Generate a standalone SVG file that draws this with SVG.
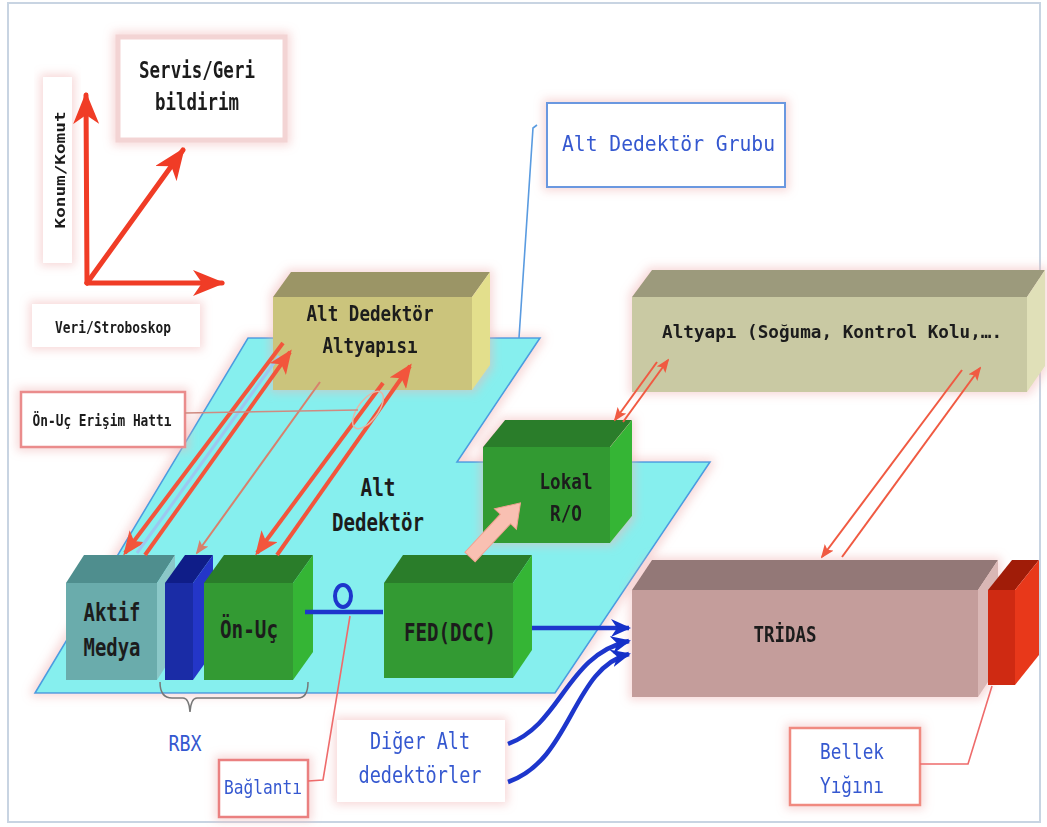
<svg xmlns="http://www.w3.org/2000/svg" width="1047" height="827" viewBox="0 0 1047 827">
<defs>
<style>
.t{font-family:"DejaVu Sans Mono","Liberation Mono",monospace;font-weight:bold;fill:#1c1c1c;text-anchor:middle}
.b{font-family:"DejaVu Sans Mono","Liberation Mono",monospace;fill:#3558d0;text-anchor:middle}
.ax{stroke:#f03c26;stroke-width:5;fill:none;stroke-linecap:round}
.rk{stroke:#f2553c;stroke-width:4;fill:none}
.rt{stroke:#f05a42;stroke-width:2;fill:none}
.bl{stroke:#1d36cc;stroke-width:4.5;fill:none}
.lead{fill:none;stroke-width:1.6}
</style>
<filter id="glow" x="-30%" y="-30%" width="160%" height="160%">
<feMorphology in="SourceAlpha" operator="dilate" radius="3" result="d"/>
<feGaussianBlur in="d" stdDeviation="5" result="bb"/>
<feFlood flood-color="#f0b4b4" flood-opacity="0.5"/>
<feComposite in2="bb" operator="in" result="g"/>
<feMerge><feMergeNode in="g"/><feMergeNode in="SourceGraphic"/></feMerge>
</filter>
<marker id="ha" viewBox="0 0 32 26" markerWidth="32" markerHeight="26" refX="29" refY="13" orient="auto" markerUnits="userSpaceOnUse"><path d="M0,0 L32,13 L0,26 L9,13 z" fill="#f03c26"/></marker>
<marker id="hb" viewBox="0 0 24 20" markerWidth="24" markerHeight="20" refX="21" refY="10" orient="auto" markerUnits="userSpaceOnUse"><path d="M0,0 L24,10 L0,20 L6,10 z" fill="#f2553c"/></marker>
<marker id="hs" viewBox="0 0 14 11" markerWidth="14" markerHeight="11" refX="12" refY="5.5" orient="auto" markerUnits="userSpaceOnUse"><path d="M0,0 L14,5.5 L0,11 L3,5.5 z" fill="#f05a42"/></marker>
<marker id="hc" viewBox="0 0 14 11" markerWidth="14" markerHeight="11" refX="12" refY="5.5" orient="auto" markerUnits="userSpaceOnUse"><path d="M0,0 L14,5.5 L0,11 L3,5.5 z" fill="#d8806c"/></marker>
<marker id="hbl" viewBox="0 0 20 18" markerWidth="20" markerHeight="18" refX="18" refY="9" orient="auto" markerUnits="userSpaceOnUse"><path d="M0,0 L20,9 L0,18 L6,9 z" fill="#1530c8"/></marker>
</defs>

<rect x="0" y="0" width="1047" height="827" fill="#ffffff"/>
<rect x="8" y="3" width="1032" height="819" fill="#ffffff" stroke="#c8d4e2" stroke-width="2"/>

<g id="platform" filter="url(#glow)">
<polygon points="35,693 248,338 540,338 457,462 710,462 555,693" fill="#86efee" stroke="#4a9ee0" stroke-width="1.6"/>
</g>

<g id="axes">
<g id="konum" filter="url(#glow)"><rect x="43" y="77" width="29" height="186" fill="#ffffff"/>
<text class="t" transform="translate(65,170) rotate(-90)" font-size="14" textLength="117" lengthAdjust="spacingAndGlyphs">Konum/Komut</text></g>
<g id="servis" filter="url(#glow)"><rect x="118" y="37" width="167" height="103" fill="#ffffff" stroke="#f3d4d4" stroke-width="5"/>
<text class="t" x="197" y="78" font-size="22.5" textLength="116" lengthAdjust="spacingAndGlyphs">Servis/Geri</text>
<text class="t" x="197" y="110" font-size="22.5" textLength="84" lengthAdjust="spacingAndGlyphs">bildirim</text></g>
<g id="veri" filter="url(#glow)"><rect x="32" y="304" width="168" height="43" fill="#ffffff"/>
<text class="t" x="113" y="333" font-size="16" textLength="116" lengthAdjust="spacingAndGlyphs">Veri/Stroboskop</text></g>
<path class="ax" d="M87,283 L86,95" marker-end="url(#ha)"/>
<path class="ax" d="M87,283 L222,283" marker-end="url(#ha)"/>
<path class="ax" d="M87,283 L183,150" marker-end="url(#ha)"/>
</g>

<g id="grubu" filter="url(#glow)"><rect x="547" y="103" width="238" height="84" fill="#ffffff" stroke="#6a98e0" stroke-width="2"/>
<text class="b" x="562" y="151" font-size="22" textLength="213" lengthAdjust="spacingAndGlyphs" style="text-anchor:start">Alt Dedektör Grubu</text></g>

<g id="altyapisi" filter="url(#glow)">
<polygon points="273,297 291,272 490,272 472,297" fill="#9b9566"/>
<polygon points="472,297 490,272 490,365 472,390" fill="#e3df8c"/>
<rect x="273" y="297" width="199" height="93" fill="#cbc47c"/>
<text class="t" x="370" y="321" font-size="22" textLength="127" lengthAdjust="spacingAndGlyphs">Alt Dedektör</text>
<text class="t" x="370" y="353" font-size="22" textLength="95" lengthAdjust="spacingAndGlyphs">Altyapısı</text>
</g>

<g id="altyapi" filter="url(#glow)">
<polygon points="632,297 652,270 1045,270 1027,297" fill="#9c9a7c"/>
<polygon points="1027,297 1045,270 1045,366 1027,392" fill="#e0e0b8"/>
<rect x="632" y="297" width="395" height="95" fill="#c9c9a3"/>
<text class="t" x="662" y="338" font-size="18" textLength="340" lengthAdjust="spacingAndGlyphs" style="text-anchor:start">Altyapı (Soğuma, Kontrol Kolu,….</text>
</g>

<g id="altdedektor">
<text class="t" x="378" y="496" font-size="24" textLength="35" lengthAdjust="spacingAndGlyphs">Alt</text>
<text class="t" x="378" y="531" font-size="24" textLength="92" lengthAdjust="spacingAndGlyphs">Dedektör</text>
</g>

<g id="lokal" filter="url(#glow)">
<polygon points="483,447 505,420 632,420 610,447" fill="#2a7d2a"/>
<polygon points="610,447 632,420 632,516 610,543" fill="#35b535"/>
<rect x="483" y="447" width="127" height="96" fill="#339a33"/>
<text class="t" x="566" y="489" font-size="22" textLength="53" lengthAdjust="spacingAndGlyphs">Lokal</text>
<text class="t" x="566" y="521" font-size="22" textLength="32" lengthAdjust="spacingAndGlyphs">R/O</text>
</g>

<g id="fed">
<polygon points="384,583 403,555 532,555 513,583" fill="#2a7d2a"/>
<polygon points="513,583 532,555 532,650 513,678" fill="#35b535"/>
<rect x="384" y="583" width="129" height="95" fill="#339a33"/>
<text class="t" x="450" y="641" font-size="24" textLength="92" lengthAdjust="spacingAndGlyphs">FED(DCC)</text>
</g>

<g id="aktif">
<polygon points="66,583 84,555 175,555 157,583" fill="#4f8e8e"/>
<polygon points="157,583 175,555 175,652 157,680" fill="#8bc8c8"/>
<rect x="66" y="583" width="91" height="97" fill="#6aacac"/>
<text class="t" x="112" y="621" font-size="24" textLength="57" lengthAdjust="spacingAndGlyphs">Aktif</text>
<text class="t" x="112" y="656" font-size="24" textLength="57" lengthAdjust="spacingAndGlyphs">Medya</text>
</g>

<g id="rbxblock">
<polygon points="165,583 185,555 213,555 193,583" fill="#0f1d88"/>
<polygon points="193,583 213,555 213,652 193,680" fill="#2436c8"/>
<rect x="165" y="583" width="28" height="97" fill="#1a2ca6"/>
</g>

<g id="onuc">
<polygon points="204,583 224,555 313,555 293,583" fill="#2a7d2a"/>
<polygon points="293,583 313,555 313,652 293,680" fill="#35b535"/>
<rect x="204" y="583" width="89" height="97" fill="#339a33"/>
<text class="t" x="249" y="638" font-size="24" textLength="58" lengthAdjust="spacingAndGlyphs">Ön-Uç</text>
</g>

<g id="tridas" filter="url(#glow)">
<polygon points="632,590 652,560 998,560 978,590" fill="#937877"/>
<polygon points="978,590 998,560 998,667 978,697" fill="#d9b7b5"/>
<rect x="632" y="590" width="346" height="107" fill="#c49d9b"/>
<text class="t" x="785" y="642" font-size="22" textLength="63" lengthAdjust="spacingAndGlyphs">TRİDAS</text>
</g>

<g id="bellekblock">
<polygon points="988,590 1012,560 1039,560 1015,590" fill="#a01c08"/>
<polygon points="1015,590 1039,560 1039,655 1015,685" fill="#e8381a"/>
<rect x="988" y="590" width="27" height="95" fill="#cf2a12"/>
</g>

<g id="onucerisim" filter="url(#glow)"><rect x="21" y="392" width="164" height="55" fill="#ffffff" stroke="#ea8c8c" stroke-width="2.5"/>
<text class="t" x="102" y="426" font-size="16" textLength="139" lengthAdjust="spacingAndGlyphs">Ön-Uç Erişim Hattı</text></g>

<g id="rbx"><rect x="154" y="722" width="59" height="40" fill="#ffffff"/>
<text class="b" x="185" y="751" font-size="22" textLength="33" lengthAdjust="spacingAndGlyphs">RBX</text></g>

<g id="baglanti" filter="url(#glow)"><rect x="219" y="760" width="89" height="57" fill="#ffffff" stroke="#ea8080" stroke-width="2.5"/>
<text class="b" x="263" y="794" font-size="20" textLength="78" lengthAdjust="spacingAndGlyphs">Bağlantı</text></g>

<g id="diger" filter="url(#glow)"><rect x="337" y="720" width="168" height="82" fill="#ffffff"/>
<text class="b" x="420" y="749" font-size="23" textLength="100" lengthAdjust="spacingAndGlyphs">Diğer Alt</text>
<text class="b" x="420" y="783" font-size="23" textLength="123" lengthAdjust="spacingAndGlyphs">dedektörler</text></g>

<g id="bellek" filter="url(#glow)"><rect x="790" y="728" width="130" height="77" fill="#ffffff" stroke="#f08a80" stroke-width="2.5"/>
<text class="b" x="852" y="759" font-size="22" textLength="64" lengthAdjust="spacingAndGlyphs">Bellek</text>
<text class="b" x="852" y="793" font-size="22" textLength="64" lengthAdjust="spacingAndGlyphs">Yığını</text></g>

<g id="connectors">
<path d="M0,-7 L52,-7 L52,-15 L74,0 L52,15 L52,7 L0,7 Z" transform="translate(470,557) rotate(-47)" fill="#f9c0b2" stroke="#f3a090" stroke-width="1"/>
<path class="rk" d="M283,343 L125,553" marker-end="url(#hb)"/>
<path d="M137,553 L279,356" stroke="#9cc8f0" stroke-width="3" fill="none"/>
<path class="rk" d="M145,555 L290,352" marker-end="url(#hb)"/>
<path d="M320,382 L197,553" stroke="#d8806c" stroke-width="2" fill="none" marker-end="url(#hc)"/>
<path class="rk" d="M383,383 L257,553" marker-end="url(#hb)"/>
<path class="rk" d="M277,555 L410,366" marker-end="url(#hb)"/>
<ellipse cx="368" cy="410" rx="10" ry="22" transform="rotate(36.5 368 410)" fill="none" stroke="#e2b8a8" stroke-width="1.5"/>
<path class="lead" d="M185,413 L358,410" stroke="#d08a80"/>
<path class="rt" d="M657,362 L615,420" marker-end="url(#hs)"/>
<path class="rt" d="M623,422 L668,360" marker-end="url(#hs)"/>
<path class="rt" d="M962,370 L822,557" marker-end="url(#hs)"/>
<path class="rt" d="M842,557 L980,368" marker-end="url(#hs)"/>
<path class="bl" d="M305,612 L383,612"/>
<ellipse cx="343" cy="596" rx="8" ry="11" fill="none" stroke="#1d36cc" stroke-width="4"/>
<path class="bl" d="M532,628 L629,628" marker-end="url(#hbl)"/>
<path class="bl" d="M508,744 C562,724 566,655 629,641" marker-end="url(#hbl)"/>
<path class="bl" d="M508,782 C572,760 572,668 629,654" marker-end="url(#hbl)"/>
<path d="M160,682 Q160,698 172,698 L183,698 Q189,698 190,712 Q191,698 197,698 L298,698 Q308,698 308,682" fill="none" stroke="#777777" stroke-width="1.5"/>
<path class="lead" d="M308,781 L323,780 L350,616" stroke="#ee6b6b"/>
<path class="lead" d="M920,764 L968,764 L992,686" stroke="#ee6b6b"/>
<path class="lead" d="M537,125 L533,128 L519,338" stroke="#5a9be0"/>
</g>
</svg>
